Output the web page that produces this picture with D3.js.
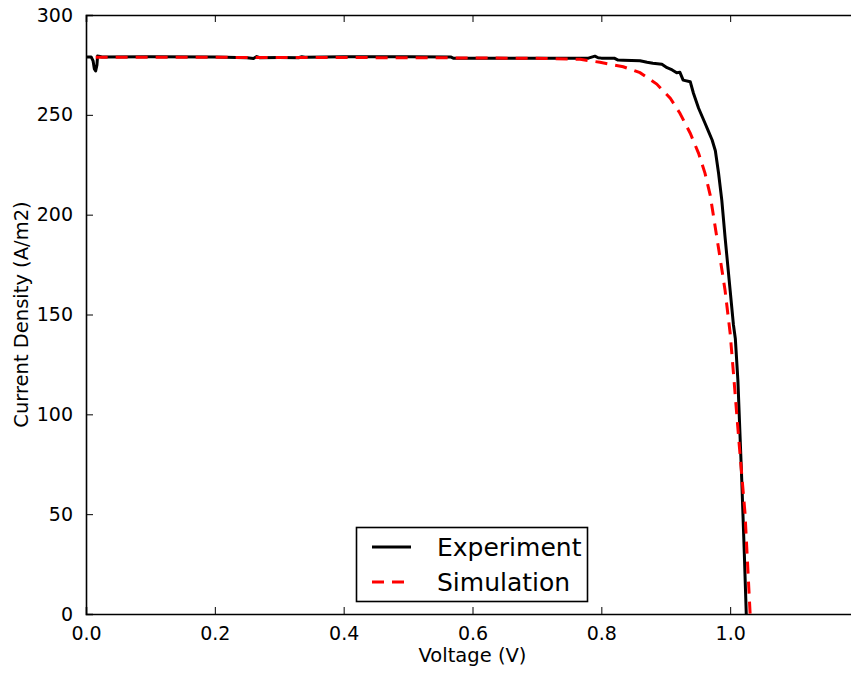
<!DOCTYPE html>
<html>
<head>
<meta charset="utf-8">
<script src="https://cdn.jsdelivr.net/npm/d3@7"></script>
<style>
html,body{margin:0;padding:0;background:#fff;overflow:hidden;}
svg{display:block;font-family:"DejaVu Sans",sans-serif;}
</style>
</head>
<body>
<svg id="chart" width="851" height="673"></svg>
<script>
// Experiment (black solid)
const expVoltage = [0, 0.008, 0.011, 0.013, 0.015, 0.017, 0.018, 0.02, 0.025, 0.1, 0.2, 0.25, 0.26, 0.265, 0.27, 0.3, 0.33, 0.335, 0.34, 0.4, 0.5, 0.566, 0.57, 0.7, 0.78, 0.79, 0.795, 0.8, 0.82, 0.826, 0.834, 0.86, 0.871, 0.88, 0.894, 0.902, 0.91, 0.917, 0.922, 0.927, 0.938, 0.943, 0.951, 0.961, 0.966, 0.972, 0.977, 0.982, 0.987, 0.992, 1.0, 1.005, 1.008, 1.012, 1.018, 1.022, 1.025];
const expCurrent = [279, 279, 277, 273, 272, 275, 279.5, 279.3, 279, 279.1, 279, 278.6, 278.2, 279.2, 278.6, 278.7, 278.6, 279.1, 278.9, 279.1, 279.1, 279, 278.4, 278.4, 278.4, 279.4, 278.6, 278.4, 278.4, 277.4, 277.3, 277.1, 276.3, 275.8, 275.3, 273.6, 272.5, 271.1, 271.3, 267.4, 266.6, 260.8, 253.3, 245.8, 242, 237.4, 232, 220.7, 207.3, 189, 162, 145, 138, 117, 67, 30, 0];
// Simulation (red dashed)
const simVoltage = [0.015, 0.1, 0.2, 0.3, 0.4, 0.5, 0.6, 0.7, 0.75, 0.767, 0.798, 0.834, 0.86, 0.886, 0.907, 0.922, 0.938, 0.951, 0.961, 0.969, 0.984, 0.992, 1.0, 1.006, 1.014, 1.023, 1.031];
const simCurrent = [278.8, 278.8, 278.8, 278.7, 278.7, 278.6, 278.5, 278.3, 278, 277.8, 276.3, 274.1, 271.1, 265.4, 258.3, 250.8, 240.8, 230.7, 220.7, 209.8, 179, 162.3, 140.6, 117, 85, 50.6, 0];
const xTicks = [0, 0.2, 0.4, 0.6, 0.8, 1.0];
const yTicks = [0, 50, 100, 150, 200, 250, 300];
const seriesNames = ["Experiment", "Simulation"];
const xLabel = "Voltage (V)";
const yLabel = "Current Density (A/m2)";

const svg = d3.select("#chart");
const L = 86, R = 859, T = 15, B = 614;
const x = d3.scaleLinear().domain([0, 1.2]).range([L, R]);
const y = d3.scaleLinear().domain([0, 300]).range([B, T]);

// Axes (inner ticks)
const fs = 19;
const xb = svg.append("g").attr("transform", `translate(0,${B})`)
  .call(d3.axisBottom(x).tickValues(xTicks).tickSize(-7).tickPadding(12).tickFormat(d3.format(".1f")));
const xt = svg.append("g").attr("transform", `translate(0,${T})`)
  .call(d3.axisTop(x).tickValues(xTicks).tickSize(-7).tickFormat(""));
const yl = svg.append("g").attr("transform", `translate(${L},0)`)
  .call(d3.axisLeft(y).tickValues(yTicks).tickSize(-7).tickPadding(13).tickFormat(d3.format("d")));
const yr = svg.append("g").attr("transform", `translate(${R},0)`)
  .call(d3.axisRight(y).tickValues(yTicks).tickSize(-7).tickFormat(""));
[xb, xt, yl, yr].forEach(g => {
  g.select(".domain").attr("stroke", "#000").attr("stroke-width", 1.6);
  g.selectAll(".tick line").attr("stroke", "#000").attr("stroke-width", 1);
  g.selectAll("text").attr("font-size", fs).attr("fill", "#000").attr("font-family", "DejaVu Sans");
});
xb.selectAll(".tick text").attr("dy", "0.75em");

// Clip
svg.append("clipPath").attr("id", "clip").append("rect")
  .attr("x", L).attr("y", T - 3).attr("width", R - L).attr("height", B - T + 3);

const line = d3.line().x(d => x(d[0])).y(d => y(d[1]));
const expData = expVoltage.map((v, i) => [v, expCurrent[i]]);
const simData = simVoltage.map((v, i) => [v, simCurrent[i]]);

svg.append("path").datum(expData).attr("clip-path", "url(#clip)")
  .attr("d", line).attr("fill", "none").attr("stroke", "#000").attr("stroke-width", 3).attr("stroke-linejoin", "round");
svg.append("path").datum(simData).attr("clip-path", "url(#clip)")
  .attr("d", line).attr("fill", "none").attr("stroke", "#ff0000").attr("stroke-width", 3).attr("stroke-dasharray", "12,8");

// Axis labels
svg.append("text").attr("x", (L + R) / 2).attr("y", 662).attr("text-anchor", "middle")
  .attr("font-size", 19.5).text(xLabel);
svg.append("text").attr("transform", `translate(28,${(T + B) / 2}) rotate(-90)`).attr("text-anchor", "middle")
  .attr("font-size", 19.5).text(yLabel);

// Legend
const lg = svg.append("g");
lg.append("rect").attr("x", 356.5).attr("y", 527.5).attr("width", 231).attr("height", 74)
  .attr("fill", "#fff").attr("stroke", "#000").attr("stroke-width", 1.6);
const styles = [{c: "#000", d: null}, {c: "#ff0000", d: "12,8"}];
seriesNames.forEach((n, i) => {
  const yy = 547 + i * 35;
  const ln = lg.append("line").attr("x1", 372).attr("x2", 411).attr("y1", yy).attr("y2", yy)
    .attr("stroke", styles[i].c).attr("stroke-width", 3);
  if (styles[i].d) ln.attr("stroke-dasharray", styles[i].d);
  lg.append("text").attr("x", 437).attr("y", yy).attr("dy", "0.36em").attr("font-size", 25).text(n);
});
</script>
</body>
</html>
